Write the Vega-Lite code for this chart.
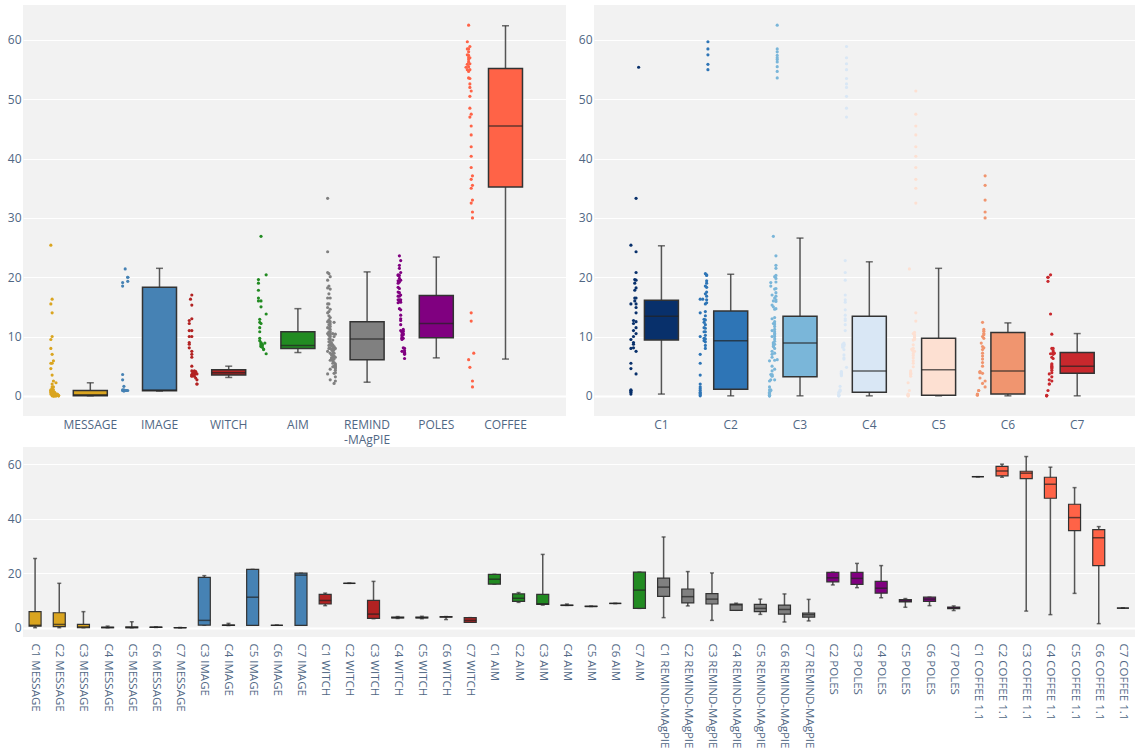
{
"$schema": "https://vega.github.io/schema/vega-lite/v6.json",
"padding": {"left": 7, "top": 5, "right": 0, "bottom": 0},
"background": "white",
"config": {
  "font": "Open Sans",
  "view": {"fill": "#f2f2f2", "stroke": null},
  "axis": {"labelFont": "Open Sans", "labelFontSize": 12, "labelColor": "#506784", "domain": false, "ticks": false, "title": null, "gridColor": "#ffffff", "labelOverlap": false}
},
"datasets": {
"pts": [
{"m":"MESSAGE","c":"C1","v":0.3},{"m":"MESSAGE","c":"C1","v":0.6},{"m":"MESSAGE","c":"C1","v":0.8},{"m":"MESSAGE","c":"C1","v":0.9},{"m":"MESSAGE","c":"C1","v":1.0},{"m":"MESSAGE","c":"C1","v":4.6},{"m":"MESSAGE","c":"C1","v":5.5},{"m":"MESSAGE","c":"C1","v":8.0},{"m":"MESSAGE","c":"C1","v":9.5},{"m":"MESSAGE","c":"C1","v":15.5},{"m":"MESSAGE","c":"C1","v":25.4},
{"m":"MESSAGE","c":"C2","v":0},{"m":"MESSAGE","c":"C2","v":0.2},{"m":"MESSAGE","c":"C2","v":0.4},{"m":"MESSAGE","c":"C2","v":0.6},{"m":"MESSAGE","c":"C2","v":0.9},{"m":"MESSAGE","c":"C2","v":1.2},{"m":"MESSAGE","c":"C2","v":1.5},{"m":"MESSAGE","c":"C2","v":2.0},{"m":"MESSAGE","c":"C2","v":3.5},{"m":"MESSAGE","c":"C2","v":5.5},{"m":"MESSAGE","c":"C2","v":7.0},{"m":"MESSAGE","c":"C2","v":10.0},{"m":"MESSAGE","c":"C2","v":14.0},{"m":"MESSAGE","c":"C2","v":16.3},
{"m":"MESSAGE","c":"C3","v":0},{"m":"MESSAGE","c":"C3","v":0},{"m":"MESSAGE","c":"C3","v":0},{"m":"MESSAGE","c":"C3","v":0.1},{"m":"MESSAGE","c":"C3","v":0.2},{"m":"MESSAGE","c":"C3","v":0.3},{"m":"MESSAGE","c":"C3","v":0.4},{"m":"MESSAGE","c":"C3","v":0.6},{"m":"MESSAGE","c":"C3","v":1.0},{"m":"MESSAGE","c":"C3","v":1.5},{"m":"MESSAGE","c":"C3","v":2.5},{"m":"MESSAGE","c":"C3","v":5.9},
{"m":"MESSAGE","c":"C4","v":0},{"m":"MESSAGE","c":"C4","v":0},{"m":"MESSAGE","c":"C4","v":0.1},{"m":"MESSAGE","c":"C4","v":0.2},{"m":"MESSAGE","c":"C4","v":0.3},{"m":"MESSAGE","c":"C4","v":0.6},
{"m":"MESSAGE","c":"C5","v":0},{"m":"MESSAGE","c":"C5","v":0},{"m":"MESSAGE","c":"C5","v":0.1},{"m":"MESSAGE","c":"C5","v":0.2},{"m":"MESSAGE","c":"C5","v":0.3},{"m":"MESSAGE","c":"C5","v":2.2},
{"m":"MESSAGE","c":"C6","v":0.1},{"m":"MESSAGE","c":"C6","v":0.2},{"m":"MESSAGE","c":"C6","v":0.2},{"m":"MESSAGE","c":"C6","v":0.3},
{"m":"MESSAGE","c":"C7","v":0},{"m":"MESSAGE","c":"C7","v":0},{"m":"MESSAGE","c":"C7","v":0.1},
{"m":"IMAGE","c":"C3","v":0.9},{"m":"IMAGE","c":"C3","v":1.0},{"m":"IMAGE","c":"C3","v":2.7},{"m":"IMAGE","c":"C3","v":3.6},{"m":"IMAGE","c":"C3","v":18.5},{"m":"IMAGE","c":"C3","v":19.1},
{"m":"IMAGE","c":"C4","v":0.8},{"m":"IMAGE","c":"C4","v":0.9},{"m":"IMAGE","c":"C4","v":1.0},{"m":"IMAGE","c":"C4","v":1.6},
{"m":"IMAGE","c":"C5","v":0.9},{"m":"IMAGE","c":"C5","v":21.4},
{"m":"IMAGE","c":"C6","v":0.9},{"m":"IMAGE","c":"C6","v":0.9},
{"m":"IMAGE","c":"C7","v":0.9},{"m":"IMAGE","c":"C7","v":19.3},{"m":"IMAGE","c":"C7","v":20.0},{"m":"IMAGE","c":"C7","v":20.0},
{"m":"WITCH","c":"C1","v":8.1},{"m":"WITCH","c":"C1","v":8.7},{"m":"WITCH","c":"C1","v":9.0},{"m":"WITCH","c":"C1","v":10.0},{"m":"WITCH","c":"C1","v":11.0},{"m":"WITCH","c":"C1","v":12.2},{"m":"WITCH","c":"C1","v":12.7},
{"m":"WITCH","c":"C2","v":16.3},
{"m":"WITCH","c":"C3","v":3.3},{"m":"WITCH","c":"C3","v":3.4},{"m":"WITCH","c":"C3","v":3.6},{"m":"WITCH","c":"C3","v":4.2},{"m":"WITCH","c":"C3","v":5.0},{"m":"WITCH","c":"C3","v":6.5},{"m":"WITCH","c":"C3","v":7.0},{"m":"WITCH","c":"C3","v":7.5},{"m":"WITCH","c":"C3","v":10.0},{"m":"WITCH","c":"C3","v":11.0},{"m":"WITCH","c":"C3","v":13.0},{"m":"WITCH","c":"C3","v":15.3},{"m":"WITCH","c":"C3","v":17.0},
{"m":"WITCH","c":"C4","v":3.4},{"m":"WITCH","c":"C4","v":3.6},{"m":"WITCH","c":"C4","v":3.7},{"m":"WITCH","c":"C4","v":3.8},{"m":"WITCH","c":"C4","v":3.9},{"m":"WITCH","c":"C4","v":4.0},{"m":"WITCH","c":"C4","v":4.1},
{"m":"WITCH","c":"C5","v":3.3},{"m":"WITCH","c":"C5","v":3.6},{"m":"WITCH","c":"C5","v":3.7},{"m":"WITCH","c":"C5","v":3.8},{"m":"WITCH","c":"C5","v":3.9},{"m":"WITCH","c":"C5","v":4.2},
{"m":"WITCH","c":"C6","v":3.0},{"m":"WITCH","c":"C6","v":3.9},{"m":"WITCH","c":"C6","v":4.0},{"m":"WITCH","c":"C6","v":4.1},
{"m":"WITCH","c":"C7","v":2.0},{"m":"WITCH","c":"C7","v":2.0},{"m":"WITCH","c":"C7","v":2.7},{"m":"WITCH","c":"C7","v":3.7},
{"m":"AIM","c":"C1","v":16.0},{"m":"AIM","c":"C1","v":16.5},{"m":"AIM","c":"C1","v":17.8},{"m":"AIM","c":"C1","v":19.0},{"m":"AIM","c":"C1","v":19.6},
{"m":"AIM","c":"C2","v":9.3},{"m":"AIM","c":"C2","v":9.7},{"m":"AIM","c":"C2","v":10.8},{"m":"AIM","c":"C2","v":11.5},{"m":"AIM","c":"C2","v":12.4},{"m":"AIM","c":"C2","v":12.9},
{"m":"AIM","c":"C3","v":8.3},{"m":"AIM","c":"C3","v":8.4},{"m":"AIM","c":"C3","v":8.6},{"m":"AIM","c":"C3","v":8.8},{"m":"AIM","c":"C3","v":9.0},{"m":"AIM","c":"C3","v":12.2},{"m":"AIM","c":"C3","v":15.0},{"m":"AIM","c":"C3","v":16.0},{"m":"AIM","c":"C3","v":26.9},
{"m":"AIM","c":"C4","v":8.2},{"m":"AIM","c":"C4","v":8.5},{"m":"AIM","c":"C4","v":8.7},
{"m":"AIM","c":"C5","v":7.8},{"m":"AIM","c":"C5","v":7.9},
{"m":"AIM","c":"C6","v":8.9},
{"m":"AIM","c":"C7","v":7.1},{"m":"AIM","c":"C7","v":13.8},{"m":"AIM","c":"C7","v":20.4},
{"m":"REMIND-MAgPIE","c":"C1","v":3.7},{"m":"REMIND-MAgPIE","c":"C1","v":7.5},{"m":"REMIND-MAgPIE","c":"C1","v":10.5},{"m":"REMIND-MAgPIE","c":"C1","v":11.5},{"m":"REMIND-MAgPIE","c":"C1","v":12.5},{"m":"REMIND-MAgPIE","c":"C1","v":14.0},{"m":"REMIND-MAgPIE","c":"C1","v":14.9},{"m":"REMIND-MAgPIE","c":"C1","v":15.5},{"m":"REMIND-MAgPIE","c":"C1","v":16.5},{"m":"REMIND-MAgPIE","c":"C1","v":18.2},{"m":"REMIND-MAgPIE","c":"C1","v":19.5},{"m":"REMIND-MAgPIE","c":"C1","v":20.8},{"m":"REMIND-MAgPIE","c":"C1","v":24.3},{"m":"REMIND-MAgPIE","c":"C1","v":33.3},
{"m":"REMIND-MAgPIE","c":"C2","v":8.0},{"m":"REMIND-MAgPIE","c":"C2","v":8.5},{"m":"REMIND-MAgPIE","c":"C2","v":9.1},{"m":"REMIND-MAgPIE","c":"C2","v":9.6},{"m":"REMIND-MAgPIE","c":"C2","v":10.2},{"m":"REMIND-MAgPIE","c":"C2","v":10.8},{"m":"REMIND-MAgPIE","c":"C2","v":11.4},{"m":"REMIND-MAgPIE","c":"C2","v":12.0},{"m":"REMIND-MAgPIE","c":"C2","v":12.8},{"m":"REMIND-MAgPIE","c":"C2","v":13.5},{"m":"REMIND-MAgPIE","c":"C2","v":14.2},{"m":"REMIND-MAgPIE","c":"C2","v":15.5},{"m":"REMIND-MAgPIE","c":"C2","v":17.2},{"m":"REMIND-MAgPIE","c":"C2","v":18.5},{"m":"REMIND-MAgPIE","c":"C2","v":20.6},
{"m":"REMIND-MAgPIE","c":"C3","v":2.7},{"m":"REMIND-MAgPIE","c":"C3","v":4.5},{"m":"REMIND-MAgPIE","c":"C3","v":6.0},{"m":"REMIND-MAgPIE","c":"C3","v":7.2},{"m":"REMIND-MAgPIE","c":"C3","v":8.0},{"m":"REMIND-MAgPIE","c":"C3","v":8.7},{"m":"REMIND-MAgPIE","c":"C3","v":9.2},{"m":"REMIND-MAgPIE","c":"C3","v":9.6},{"m":"REMIND-MAgPIE","c":"C3","v":10.0},{"m":"REMIND-MAgPIE","c":"C3","v":10.3},{"m":"REMIND-MAgPIE","c":"C3","v":10.5},{"m":"REMIND-MAgPIE","c":"C3","v":10.8},{"m":"REMIND-MAgPIE","c":"C3","v":11.2},{"m":"REMIND-MAgPIE","c":"C3","v":11.7},{"m":"REMIND-MAgPIE","c":"C3","v":12.1},{"m":"REMIND-MAgPIE","c":"C3","v":12.5},{"m":"REMIND-MAgPIE","c":"C3","v":13.2},{"m":"REMIND-MAgPIE","c":"C3","v":14.6},{"m":"REMIND-MAgPIE","c":"C3","v":16.5},{"m":"REMIND-MAgPIE","c":"C3","v":18.0},{"m":"REMIND-MAgPIE","c":"C3","v":20.1},
{"m":"REMIND-MAgPIE","c":"C4","v":6.2},{"m":"REMIND-MAgPIE","c":"C4","v":6.4},{"m":"REMIND-MAgPIE","c":"C4","v":6.9},{"m":"REMIND-MAgPIE","c":"C4","v":7.8},{"m":"REMIND-MAgPIE","c":"C4","v":8.4},{"m":"REMIND-MAgPIE","c":"C4","v":8.6},{"m":"REMIND-MAgPIE","c":"C4","v":8.7},{"m":"REMIND-MAgPIE","c":"C4","v":8.9},
{"m":"REMIND-MAgPIE","c":"C5","v":4.9},{"m":"REMIND-MAgPIE","c":"C5","v":5.5},{"m":"REMIND-MAgPIE","c":"C5","v":5.9},{"m":"REMIND-MAgPIE","c":"C5","v":6.4},{"m":"REMIND-MAgPIE","c":"C5","v":6.8},{"m":"REMIND-MAgPIE","c":"C5","v":7.1},{"m":"REMIND-MAgPIE","c":"C5","v":7.5},{"m":"REMIND-MAgPIE","c":"C5","v":8.0},{"m":"REMIND-MAgPIE","c":"C5","v":8.6},{"m":"REMIND-MAgPIE","c":"C5","v":9.4},{"m":"REMIND-MAgPIE","c":"C5","v":10.5},
{"m":"REMIND-MAgPIE","c":"C6","v":2.1},{"m":"REMIND-MAgPIE","c":"C6","v":3.8},{"m":"REMIND-MAgPIE","c":"C6","v":5.0},{"m":"REMIND-MAgPIE","c":"C6","v":5.6},{"m":"REMIND-MAgPIE","c":"C6","v":6.2},{"m":"REMIND-MAgPIE","c":"C6","v":6.7},{"m":"REMIND-MAgPIE","c":"C6","v":7.2},{"m":"REMIND-MAgPIE","c":"C6","v":7.8},{"m":"REMIND-MAgPIE","c":"C6","v":8.3},{"m":"REMIND-MAgPIE","c":"C6","v":10.0},{"m":"REMIND-MAgPIE","c":"C6","v":12.4},
{"m":"REMIND-MAgPIE","c":"C7","v":2.5},{"m":"REMIND-MAgPIE","c":"C7","v":3.2},{"m":"REMIND-MAgPIE","c":"C7","v":3.9},{"m":"REMIND-MAgPIE","c":"C7","v":4.3},{"m":"REMIND-MAgPIE","c":"C7","v":4.6},{"m":"REMIND-MAgPIE","c":"C7","v":4.8},{"m":"REMIND-MAgPIE","c":"C7","v":5.0},{"m":"REMIND-MAgPIE","c":"C7","v":5.2},{"m":"REMIND-MAgPIE","c":"C7","v":5.4},{"m":"REMIND-MAgPIE","c":"C7","v":6.5},{"m":"REMIND-MAgPIE","c":"C7","v":8.0},{"m":"REMIND-MAgPIE","c":"C7","v":10.4},
{"m":"POLES","c":"C2","v":15.7},{"m":"POLES","c":"C2","v":16.2},{"m":"POLES","c":"C2","v":16.8},{"m":"POLES","c":"C2","v":17.5},{"m":"POLES","c":"C2","v":18.3},{"m":"POLES","c":"C2","v":19.0},{"m":"POLES","c":"C2","v":19.4},{"m":"POLES","c":"C2","v":20.3},{"m":"POLES","c":"C2","v":20.4},
{"m":"POLES","c":"C3","v":14.7},{"m":"POLES","c":"C3","v":15.9},{"m":"POLES","c":"C3","v":16.2},{"m":"POLES","c":"C3","v":16.8},{"m":"POLES","c":"C3","v":17.4},{"m":"POLES","c":"C3","v":18.1},{"m":"POLES","c":"C3","v":19.2},{"m":"POLES","c":"C3","v":19.8},{"m":"POLES","c":"C3","v":20.3},{"m":"POLES","c":"C3","v":21.5},{"m":"POLES","c":"C3","v":22.0},{"m":"POLES","c":"C3","v":23.6},
{"m":"POLES","c":"C4","v":11.0},{"m":"POLES","c":"C4","v":12.0},{"m":"POLES","c":"C4","v":12.7},{"m":"POLES","c":"C4","v":13.0},{"m":"POLES","c":"C4","v":13.6},{"m":"POLES","c":"C4","v":14.5},{"m":"POLES","c":"C4","v":15.8},{"m":"POLES","c":"C4","v":16.2},{"m":"POLES","c":"C4","v":17.0},{"m":"POLES","c":"C4","v":19.5},{"m":"POLES","c":"C4","v":20.8},{"m":"POLES","c":"C4","v":22.8},
{"m":"POLES","c":"C5","v":7.5},{"m":"POLES","c":"C5","v":9.5},{"m":"POLES","c":"C5","v":9.7},{"m":"POLES","c":"C5","v":9.8},{"m":"POLES","c":"C5","v":10.1},{"m":"POLES","c":"C5","v":10.3},{"m":"POLES","c":"C5","v":10.7},
{"m":"POLES","c":"C6","v":8.1},{"m":"POLES","c":"C6","v":9.7},{"m":"POLES","c":"C6","v":10.3},{"m":"POLES","c":"C6","v":10.5},{"m":"POLES","c":"C6","v":10.9},{"m":"POLES","c":"C6","v":11.2},
{"m":"POLES","c":"C7","v":6.3},{"m":"POLES","c":"C7","v":7.0},{"m":"POLES","c":"C7","v":7.2},{"m":"POLES","c":"C7","v":7.3},{"m":"POLES","c":"C7","v":7.6},{"m":"POLES","c":"C7","v":8.0},
{"m":"COFFEE","c":"C1","v":55.4},
{"m":"COFFEE","c":"C2","v":55.0},{"m":"COFFEE","c":"C2","v":55.9},{"m":"COFFEE","c":"C2","v":57.5},{"m":"COFFEE","c":"C2","v":58.5},{"m":"COFFEE","c":"C2","v":59.7},
{"m":"COFFEE","c":"C3","v":6.1},{"m":"COFFEE","c":"C3","v":53.6},{"m":"COFFEE","c":"C3","v":54.7},{"m":"COFFEE","c":"C3","v":55.5},{"m":"COFFEE","c":"C3","v":56.3},{"m":"COFFEE","c":"C3","v":56.7},{"m":"COFFEE","c":"C3","v":57.0},{"m":"COFFEE","c":"C3","v":57.4},{"m":"COFFEE","c":"C3","v":58.0},{"m":"COFFEE","c":"C3","v":58.5},{"m":"COFFEE","c":"C3","v":62.5},
{"m":"COFFEE","c":"C4","v":4.8},{"m":"COFFEE","c":"C4","v":47.0},{"m":"COFFEE","c":"C4","v":48.5},{"m":"COFFEE","c":"C4","v":50.5},{"m":"COFFEE","c":"C4","v":52.0},{"m":"COFFEE","c":"C4","v":52.6},{"m":"COFFEE","c":"C4","v":53.5},{"m":"COFFEE","c":"C4","v":55.0},{"m":"COFFEE","c":"C4","v":56.0},{"m":"COFFEE","c":"C4","v":57.0},{"m":"COFFEE","c":"C4","v":58.9},
{"m":"COFFEE","c":"C5","v":12.6},{"m":"COFFEE","c":"C5","v":14.0},{"m":"COFFEE","c":"C5","v":32.5},{"m":"COFFEE","c":"C5","v":35.0},{"m":"COFFEE","c":"C5","v":36.5},{"m":"COFFEE","c":"C5","v":38.5},{"m":"COFFEE","c":"C5","v":40.4},{"m":"COFFEE","c":"C5","v":42.0},{"m":"COFFEE","c":"C5","v":44.0},{"m":"COFFEE","c":"C5","v":45.5},{"m":"COFFEE","c":"C5","v":47.5},{"m":"COFFEE","c":"C5","v":51.4},
{"m":"COFFEE","c":"C6","v":1.5},{"m":"COFFEE","c":"C6","v":2.5},{"m":"COFFEE","c":"C6","v":30.0},{"m":"COFFEE","c":"C6","v":31.0},{"m":"COFFEE","c":"C6","v":33.0},{"m":"COFFEE","c":"C6","v":35.5},{"m":"COFFEE","c":"C6","v":37.1},
{"m":"COFFEE","c":"C7","v":7.2}
],
"boxm": [
{"m":"MESSAGE","lo":0,"q1":0,"med":0.2,"q3":0.9,"hi":2.2},
{"m":"IMAGE","lo":0.8,"q1":0.85,"med":1.0,"q3":18.3,"hi":21.5},
{"m":"WITCH","lo":3.1,"q1":3.5,"med":3.9,"q3":4.4,"hi":5.0},
{"m":"AIM","lo":7.3,"q1":8.0,"med":8.5,"q3":10.8,"hi":14.7},
{"m":"REMIND-MAgPIE","lo":2.3,"q1":6.1,"med":9.6,"q3":12.5,"hi":20.9},
{"m":"POLES","lo":6.4,"q1":9.8,"med":12.2,"q3":16.9,"hi":23.4},
{"m":"COFFEE","lo":6.2,"q1":35.2,"med":45.5,"q3":55.2,"hi":62.4}
],
"boxc": [
{"c":"C1","lo":0.3,"q1":9.4,"med":13.4,"q3":16.1,"hi":25.3},
{"c":"C2","lo":0,"q1":1.1,"med":9.3,"q3":14.3,"hi":20.5},
{"c":"C3","lo":0,"q1":3.2,"med":8.9,"q3":13.4,"hi":26.6},
{"c":"C4","lo":0,"q1":0.6,"med":4.2,"q3":13.4,"hi":22.6},
{"c":"C5","lo":0,"q1":0.1,"med":4.4,"q3":9.7,"hi":21.5},
{"c":"C6","lo":0,"q1":0.3,"med":4.2,"q3":10.7,"hi":12.3},
{"c":"C7","lo":0,"q1":3.8,"med":5.0,"q3":7.3,"hi":10.5}
],
"boxmc": [
{"k":"C1 MESSAGE","m":"MESSAGE","lo":0,"q1":0.6,"med":0.9,"q3":5.9,"hi":25.4},
{"k":"C2 MESSAGE","m":"MESSAGE","lo":0,"q1":0.4,"med":1.2,"q3":5.5,"hi":16.3},
{"k":"C3 MESSAGE","m":"MESSAGE","lo":0,"q1":0,"med":0.3,"q3":1.2,"hi":5.9},
{"k":"C4 MESSAGE","m":"MESSAGE","lo":0,"q1":0,"med":0.1,"q3":0.2,"hi":0.6},
{"k":"C5 MESSAGE","m":"MESSAGE","lo":0,"q1":0,"med":0.1,"q3":0.3,"hi":2.2},
{"k":"C6 MESSAGE","m":"MESSAGE","lo":0.1,"q1":0.15,"med":0.2,"q3":0.25,"hi":0.3},
{"k":"C7 MESSAGE","m":"MESSAGE","lo":0,"q1":0,"med":0,"q3":0.05,"hi":0.1},
{"k":"C3 IMAGE","m":"IMAGE","lo":0.9,"q1":0.95,"med":2.7,"q3":18.5,"hi":19.1},
{"k":"C4 IMAGE","m":"IMAGE","lo":0.8,"q1":0.85,"med":0.9,"q3":1.0,"hi":1.6},
{"k":"C5 IMAGE","m":"IMAGE","lo":0.9,"q1":0.9,"med":11.2,"q3":21.4,"hi":21.4},
{"k":"C6 IMAGE","m":"IMAGE","lo":0.9,"q1":0.9,"med":0.9,"q3":0.9,"hi":0.9},
{"k":"C7 IMAGE","m":"IMAGE","lo":0.9,"q1":0.9,"med":19.3,"q3":20.0,"hi":20.0},
{"k":"C1 WITCH","m":"WITCH","lo":8.1,"q1":8.7,"med":10.0,"q3":12.2,"hi":12.7},
{"k":"C2 WITCH","m":"WITCH","lo":16.3,"q1":16.3,"med":16.3,"q3":16.3,"hi":16.3},
{"k":"C3 WITCH","m":"WITCH","lo":3.3,"q1":3.4,"med":5.0,"q3":10.0,"hi":17.0},
{"k":"C4 WITCH","m":"WITCH","lo":3.4,"q1":3.6,"med":3.7,"q3":3.9,"hi":4.1},
{"k":"C5 WITCH","m":"WITCH","lo":3.3,"q1":3.6,"med":3.7,"q3":3.9,"hi":4.2},
{"k":"C6 WITCH","m":"WITCH","lo":3.0,"q1":3.9,"med":4.0,"q3":4.05,"hi":4.1},
{"k":"C7 WITCH","m":"WITCH","lo":2.0,"q1":2.0,"med":2.7,"q3":3.7,"hi":3.7},
{"k":"C1 AIM","m":"AIM","lo":16.0,"q1":16.0,"med":17.8,"q3":19.6,"hi":19.6},
{"k":"C2 AIM","m":"AIM","lo":9.3,"q1":9.7,"med":10.8,"q3":12.4,"hi":12.9},
{"k":"C3 AIM","m":"AIM","lo":8.3,"q1":8.6,"med":8.8,"q3":12.2,"hi":26.9},
{"k":"C4 AIM","m":"AIM","lo":8.2,"q1":8.2,"med":8.2,"q3":8.3,"hi":8.7},
{"k":"C5 AIM","m":"AIM","lo":7.8,"q1":7.8,"med":7.8,"q3":7.9,"hi":7.9},
{"k":"C6 AIM","m":"AIM","lo":8.9,"q1":8.9,"med":8.9,"q3":8.9,"hi":8.9},
{"k":"C7 AIM","m":"AIM","lo":7.1,"q1":7.1,"med":13.8,"q3":20.4,"hi":20.4},
{"k":"C1 REMIND-MAgPIE","m":"REMIND-MAgPIE","lo":3.7,"q1":11.5,"med":14.9,"q3":18.2,"hi":33.3},
{"k":"C2 REMIND-MAgPIE","m":"REMIND-MAgPIE","lo":8.0,"q1":9.1,"med":11.4,"q3":14.2,"hi":20.6},
{"k":"C3 REMIND-MAgPIE","m":"REMIND-MAgPIE","lo":2.7,"q1":8.7,"med":10.5,"q3":12.5,"hi":20.1},
{"k":"C4 REMIND-MAgPIE","m":"REMIND-MAgPIE","lo":6.4,"q1":6.4,"med":8.4,"q3":8.7,"hi":9.0},
{"k":"C5 REMIND-MAgPIE","m":"REMIND-MAgPIE","lo":4.9,"q1":5.9,"med":7.1,"q3":8.6,"hi":10.5},
{"k":"C6 REMIND-MAgPIE","m":"REMIND-MAgPIE","lo":2.1,"q1":5.0,"med":6.7,"q3":8.3,"hi":12.4},
{"k":"C7 REMIND-MAgPIE","m":"REMIND-MAgPIE","lo":2.5,"q1":3.9,"med":4.8,"q3":5.4,"hi":10.4},
{"k":"C2 POLES","m":"POLES","lo":15.7,"q1":16.8,"med":18.3,"q3":20.3,"hi":20.4},
{"k":"C3 POLES","m":"POLES","lo":14.7,"q1":15.9,"med":18.1,"q3":20.3,"hi":23.6},
{"k":"C4 POLES","m":"POLES","lo":11.0,"q1":12.7,"med":14.5,"q3":17.0,"hi":22.8},
{"k":"C5 POLES","m":"POLES","lo":7.5,"q1":9.5,"med":9.8,"q3":10.3,"hi":10.7},
{"k":"C6 POLES","m":"POLES","lo":8.1,"q1":9.7,"med":10.5,"q3":11.2,"hi":11.2},
{"k":"C7 POLES","m":"POLES","lo":6.3,"q1":7.0,"med":7.3,"q3":7.6,"hi":8.0},
{"k":"C1 COFFEE 1.1","m":"COFFEE","lo":55.4,"q1":55.4,"med":55.4,"q3":55.4,"hi":55.4},
{"k":"C2 COFFEE 1.1","m":"COFFEE","lo":55.2,"q1":55.7,"med":57.5,"q3":59.2,"hi":60.0},
{"k":"C3 COFFEE 1.1","m":"COFFEE","lo":6.1,"q1":54.7,"med":56.7,"q3":57.4,"hi":62.8},
{"k":"C4 COFFEE 1.1","m":"COFFEE","lo":4.8,"q1":47.5,"med":52.6,"q3":55.2,"hi":58.9},
{"k":"C5 COFFEE 1.1","m":"COFFEE","lo":12.6,"q1":35.6,"med":40.4,"q3":45.3,"hi":51.4},
{"k":"C6 COFFEE 1.1","m":"COFFEE","lo":1.5,"q1":22.8,"med":33.0,"q3":36.0,"hi":37.1},
{"k":"C7 COFFEE 1.1","m":"COFFEE","lo":7.2,"q1":7.2,"med":7.2,"q3":7.2,"hi":7.2}
]
},
"vconcat": [
{
"hconcat": [
{
"width": 543, "height": 411,
"encoding": {
  "x": {"field": "m", "type": "nominal", "scale": {"domain": ["MESSAGE","IMAGE","WITCH","AIM","REMIND-MAgPIE","POLES","COFFEE"], "paddingInner": 0, "paddingOuter": 0.4235, "align": 0.558},
        "axis": {"labelAngle": 0, "labelPadding": 3, "grid": false, "labelLineHeight": 15, "labelExpr": "datum.value == 'REMIND-MAgPIE' ? ['REMIND', '-MAgPIE'] : datum.label"}}
},
"layer": [
  {"data": {"name": "boxm"}, "mark": {"type": "rule", "color": "#555555", "strokeWidth": 1.5},
   "encoding": {"y": {"field": "lo", "type": "quantitative", "scale": {"domain": [-3.4, 65.9], "nice": false, "zero": false},
     "axis": {"values": [0,10,20,30,40,50,60], "labelPadding": 2, "gridWidth": {"condition": {"test": "datum.value === 0", "value": 2}, "value": 1}}},
     "y2": {"field": "hi"}}},
  {"data": {"name": "boxm"}, "mark": {"type": "tick", "color": "#333333", "thickness": 1.5, "size": 7}, "encoding": {"y": {"field": "lo", "type": "quantitative"}}},
  {"data": {"name": "boxm"}, "mark": {"type": "tick", "color": "#333333", "thickness": 1.5, "size": 7}, "encoding": {"y": {"field": "hi", "type": "quantitative"}}},
  {"data": {"name": "boxm"}, "mark": {"type": "bar", "size": 34, "stroke": "#333333", "strokeWidth": 1.5},
   "encoding": {"y": {"field": "q1", "type": "quantitative"}, "y2": {"field": "q3"},
     "color": {"field": "m", "type": "nominal", "scale": {"domain": ["MESSAGE","IMAGE","WITCH","AIM","REMIND-MAgPIE","POLES","COFFEE"], "range": ["#daa520","#4682b4","#b22222","#228b22","#808080","#800080","#ff6347"]}, "legend": null}}},
  {"data": {"name": "boxm"}, "mark": {"type": "tick", "color": "#222222", "thickness": 1.5, "size": 34}, "encoding": {"y": {"field": "med", "type": "quantitative"}}},
  {"data": {"name": "pts"}, "mark": {"type": "circle", "size": 10, "opacity": 1},
   "encoding": {"xOffset": {"field": "c", "type": "nominal", "scale": {"type": "point", "domain": ["C1","C2","C3","C4","C5","C6","C7"], "range": [-5.5, 12.5]}},
     "y": {"field": "v", "type": "quantitative"},
     "color": {"field": "m", "type": "nominal", "legend": null}}}
]
},
{
"width": 541, "height": 411,
"encoding": {
  "x": {"field": "c", "type": "nominal", "scale": {"domain": ["C1","C2","C3","C4","C5","C6","C7"], "paddingInner": 0, "paddingOuter": 0.4035, "align": 0.586},
        "axis": {"labelAngle": 0, "labelPadding": 3, "grid": false}}
},
"layer": [
  {"data": {"name": "boxc"}, "mark": {"type": "rule", "color": "#555555", "strokeWidth": 1.5},
   "encoding": {"y": {"field": "lo", "type": "quantitative", "scale": {"domain": [-3.4, 65.9], "nice": false, "zero": false},
     "axis": {"values": [0,10,20,30,40,50,60], "labelPadding": 2, "gridWidth": {"condition": {"test": "datum.value === 0", "value": 2}, "value": 1}}},
     "y2": {"field": "hi"}}},
  {"data": {"name": "boxc"}, "mark": {"type": "tick", "color": "#333333", "thickness": 1.5, "size": 7}, "encoding": {"y": {"field": "lo", "type": "quantitative"}}},
  {"data": {"name": "boxc"}, "mark": {"type": "tick", "color": "#333333", "thickness": 1.5, "size": 7}, "encoding": {"y": {"field": "hi", "type": "quantitative"}}},
  {"data": {"name": "boxc"}, "mark": {"type": "bar", "size": 34, "stroke": "#333333", "strokeWidth": 1.5},
   "encoding": {"y": {"field": "q1", "type": "quantitative"}, "y2": {"field": "q3"},
     "color": {"field": "c", "type": "nominal", "scale": {"domain": ["C1","C2","C3","C4","C5","C6","C7"], "range": ["#08306b","#2e75b6","#7ab6d9","#d9e7f5","#fde0d2","#f0956f","#c8282d"]}, "legend": null}}},
  {"data": {"name": "boxc"}, "mark": {"type": "tick", "color": "#222222", "thickness": 1.5, "size": 34}, "encoding": {"y": {"field": "med", "type": "quantitative"}}},
  {"data": {"name": "pts"}, "mark": {"type": "circle", "size": 10, "opacity": 1},
   "encoding": {"xOffset": {"field": "m", "type": "nominal", "scale": {"type": "point", "domain": ["MESSAGE","IMAGE","WITCH","AIM","REMIND-MAgPIE","POLES","COFFEE"], "range": [-6.5, 11.5]}},
     "y": {"field": "v", "type": "quantitative"},
     "color": {"field": "c", "type": "nominal", "legend": null}}}
]
}
],
"spacing": 28,
"bounds": "flush",
"resolve": {"scale": {"color": "independent"}}
},
{
"width": 1112, "height": 190,
"data": {"name": "boxmc"},
"encoding": {
  "x": {"field": "k", "type": "nominal", "sort": null, "scale": {"paddingInner": 0, "paddingOuter": 0},
        "axis": {"labelAngle": 90, "labelAlign": "left", "labelBaseline": "middle", "labelPadding": 6, "grid": false, "labelLimit": 300, "labelFontSize": 11.5}}
},
"layer": [
  {"mark": {"type": "rule", "color": "#555555", "strokeWidth": 1.5},
   "encoding": {"y": {"field": "lo", "type": "quantitative", "scale": {"domain": [-3.4, 66.3], "nice": false, "zero": false},
     "axis": {"values": [0,20,40,60], "labelPadding": 2, "gridWidth": {"condition": {"test": "datum.value === 0", "value": 2}, "value": 1}}},
     "y2": {"field": "hi"}}},
  {"mark": {"type": "tick", "color": "#333333", "thickness": 1.5, "size": 4}, "encoding": {"y": {"field": "lo", "type": "quantitative"}}},
  {"mark": {"type": "tick", "color": "#333333", "thickness": 1.5, "size": 4}, "encoding": {"y": {"field": "hi", "type": "quantitative"}}},
  {"mark": {"type": "bar", "size": 12, "stroke": "#333333", "strokeWidth": 1.2},
   "encoding": {"y": {"field": "q1", "type": "quantitative"}, "y2": {"field": "q3"},
     "color": {"field": "m", "type": "nominal", "scale": {"domain": ["MESSAGE","IMAGE","WITCH","AIM","REMIND-MAgPIE","POLES","COFFEE"], "range": ["#daa520","#4682b4","#b22222","#228b22","#808080","#800080","#ff6347"]}, "legend": null}}},
  {"mark": {"type": "tick", "color": "#222222", "thickness": 1.5, "size": 12}, "encoding": {"y": {"field": "med", "type": "quantitative"}}}
]
}
],
"spacing": 2,
"resolve": {"scale": {"color": "independent"}}
}
